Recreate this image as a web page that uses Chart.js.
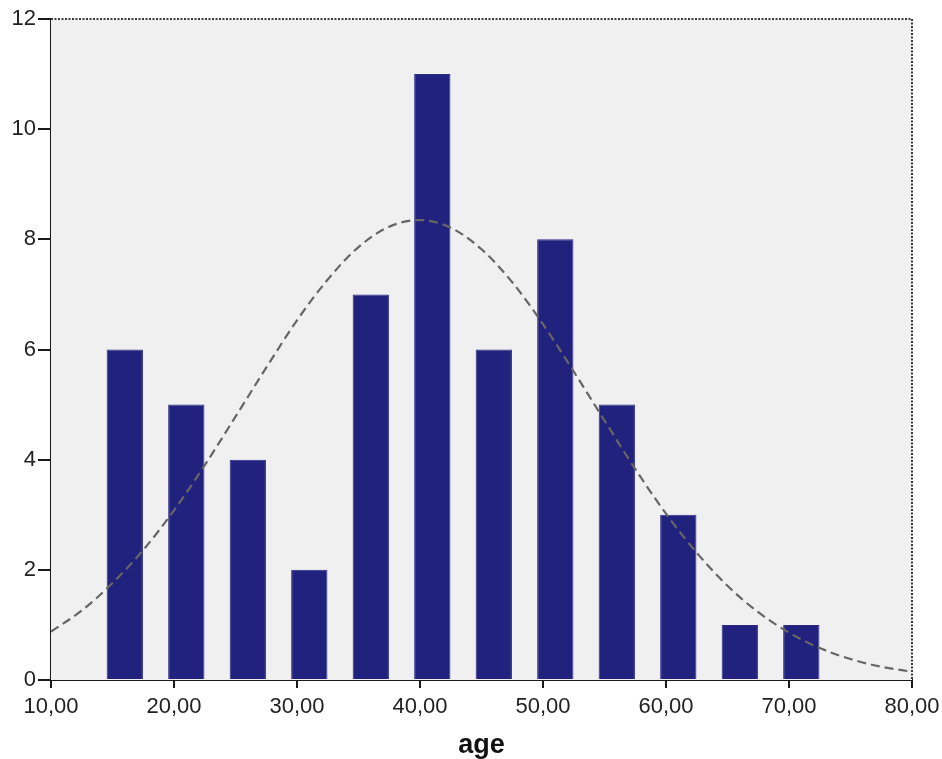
<!DOCTYPE html>
<html>
<head>
<meta charset="utf-8">
<script src="https://cdn.jsdelivr.net/npm/chart.js@4/dist/chart.umd.min.js"></script>
<style>
  html, body { margin: 0; padding: 0; background: #ffffff; }
  #wrap { width: 942px; height: 759px; }
</style>
</head>
<body>
<div id="wrap"><canvas id="c" width="942" height="759"></canvas></div>
<script>
// Histogram bin centres (age) and counts
const binCenters = [16, 21, 26, 31, 36, 41, 46, 51, 56, 61, 66, 71];
const counts     = [6, 5, 4, 2, 7, 11, 6, 8, 5, 3, 1, 1];

// Fitted normal curve
const curveX = [10, 12.5, 15, 17.5, 20, 22.5, 25, 27.5, 30, 32.5, 35, 37.5, 40, 42.5, 45, 47.5, 50, 52.5, 55, 57.5, 60, 62.5, 65, 67.5, 70, 72.5, 75, 77.5, 80];
const curveY = [0.88, 1.26, 1.76, 2.36, 3.08, 3.90, 4.78, 5.67, 6.53, 7.27, 7.86, 8.23, 8.35, 8.21, 7.82, 7.22, 6.46, 5.60, 4.71, 3.83, 3.02, 2.31, 1.71, 1.23, 0.86, 0.58, 0.38, 0.24, 0.15];

// Tick labels
const xTickValues = [10, 20, 30, 40, 50, 60, 70, 80];
const xTickLabels = ['10,00', '20,00', '30,00', '40,00', '50,00', '60,00', '70,00', '80,00'];
const yTickValues = [0, 2, 4, 6, 8, 10, 12];
const yTickLabels = ['0', '2', '4', '6', '8', '10', '12'];
const xTitle = 'age';

const barData = binCenters.map((x, i) => ({ x: x, y: counts[i] }));
const lineData = curveX.map((x, i) => ({ x: x, y: curveY[i] }));

const plotFrame = {
  id: 'plotFrame',
  beforeDatasetsDraw(chart) {
    const { ctx, chartArea: a } = chart;
    ctx.save();
    ctx.fillStyle = '#f0f0f0';
    ctx.fillRect(a.left, a.top, a.right - a.left, a.bottom - a.top);
    ctx.restore();
  },
  afterDatasetsDraw(chart) {
    const { ctx, chartArea: a } = chart;
    ctx.save();
    ctx.strokeStyle = '#3a3a3a';
    ctx.lineWidth = 2;
    ctx.setLineDash([2, 1.5]);
    ctx.beginPath();
    ctx.moveTo(a.left, a.top);
    ctx.lineTo(a.right, a.top);
    ctx.lineTo(a.right, a.bottom);
    ctx.stroke();
    ctx.restore();
  }
};

const FONT = "'Liberation Sans', Arial, sans-serif";

new Chart(document.getElementById('c'), {
  type: 'bar',
  data: {
    datasets: [
      {
        type: 'line',
        data: lineData,
        borderColor: '#666666',
        borderWidth: 2.2,
        borderDash: [9, 5],
        pointRadius: 0,
        fill: false,
        tension: 0.4,
        cubicInterpolationMode: 'monotone',
        order: 0
      },
      {
        type: 'bar',
        data: barData,
        backgroundColor: '#21217e',
        borderColor: '#2a2a86',
        borderWidth: 1,
        barPercentage: 0.59,
        categoryPercentage: 1.0,
        order: 1
      }
    ]
  },
  options: {
    responsive: false,
    animation: false,
    devicePixelRatio: 1,
    layout: { padding: { left: 0, right: 30, top: 19, bottom: 0 } },
    plugins: { legend: { display: false }, tooltip: { enabled: false } },
    scales: {
      x: {
        type: 'linear',
        min: 10,
        max: 80,
        offset: false,
        afterBuildTicks(scale) { scale.ticks = xTickValues.map(v => ({ value: v })); },
        afterFit(scale) { scale.height = 79; scale.paddingLeft = 0; scale.paddingRight = 0; },
        ticks: {
          font: { family: FONT, size: 22 },
          color: '#222222',
          padding: 6,
          maxRotation: 0,
          autoSkip: false,
          callback: (v) => { const i = xTickValues.indexOf(v); return i >= 0 ? xTickLabels[i] : ''; }
        },
        grid: { display: true, drawOnChartArea: false, drawTicks: true, tickLength: 8, color: '#1a1a1a', lineWidth: 2, offset: false },
        border: { display: true, color: '#1a1a1a', width: 2 },
        title: {
          display: true,
          text: xTitle,
          font: { family: FONT, size: 27, weight: 'bold', lineHeight: 1.0 },
          color: '#111111',
          padding: { top: 0, bottom: 0 }
        }
      },
      y: {
        type: 'linear',
        min: 0,
        max: 12,
        afterBuildTicks(scale) { scale.ticks = yTickValues.map(v => ({ value: v })); },
        afterFit(scale) { scale.width = 51; scale.paddingTop = 0; scale.paddingBottom = 0; },
        ticks: {
          font: { family: FONT, size: 22 },
          color: '#222222',
          padding: 2,
          callback: (v) => { const i = yTickValues.indexOf(v); return i >= 0 ? yTickLabels[i] : ''; }
        },
        grid: { display: true, drawOnChartArea: false, drawTicks: true, tickLength: 13, color: '#1a1a1a', lineWidth: 2 },
        border: { display: true, color: '#1a1a1a', width: 2 }
      }
    }
  },
  plugins: [plotFrame]
});
</script>
</body>
</html>
